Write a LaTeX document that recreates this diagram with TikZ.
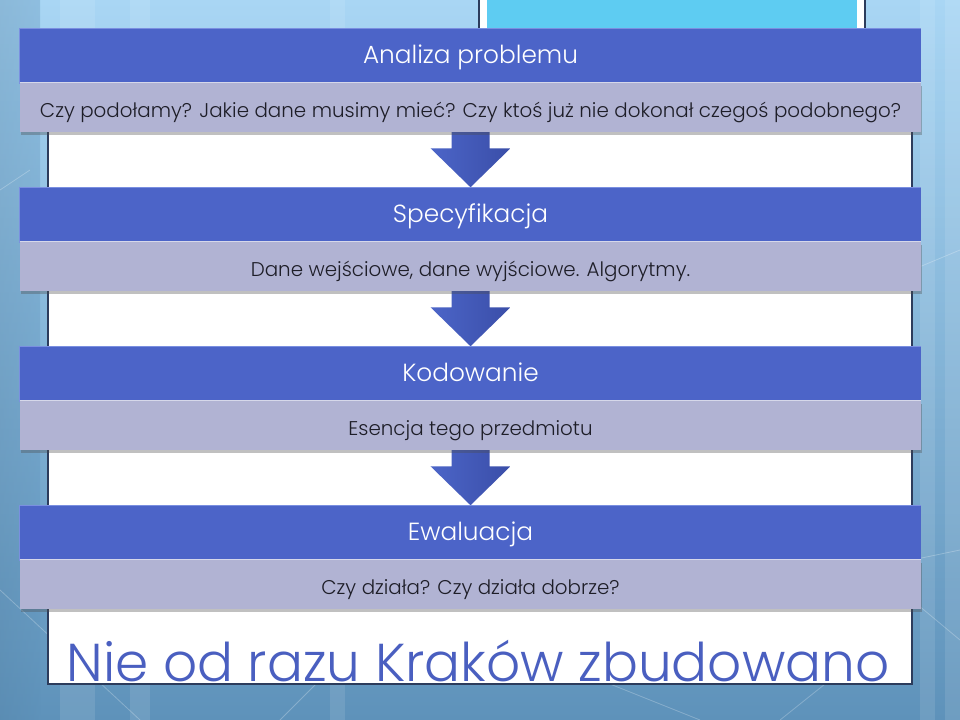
\documentclass[tikz,border=0pt]{standalone}
\usepackage{fontspec}
\setmainfont{Poppins}[UprightFont=* Light]
\usetikzlibrary{calc,shadows}
\definecolor{bgtop}{HTML}{A9D6F4}
\definecolor{bgbot}{HTML}{5E92BA}
\definecolor{titleblue}{HTML}{4C64C8}
\definecolor{titlelight}{HTML}{7A8FE0}
\definecolor{greybar}{HTML}{B1B3D3}
\definecolor{greylight}{HTML}{D6D8EA}
\definecolor{arrowL}{HTML}{4C65C8}
\definecolor{arrowR}{HTML}{3A4EA8}
\definecolor{panelline}{HTML}{2C3C5C}
\definecolor{cyanbox}{HTML}{5ECCF2}
\definecolor{mottoblue}{HTML}{4A5FC0}
\definecolor{greytext}{HTML}{1E1E28}
\pgfdeclarelayer{bg}
\pgfdeclarelayer{arrowlayer}
\pgfsetlayers{bg,arrowlayer,main}
\tikzset{
  titlebar/.style={fill=titleblue, draw=none, minimum width=675.75pt, minimum height=41.25pt,
    inner sep=0pt, text=white, font=\fontsize{18.6}{22}\selectfont,
    text height=11.6pt, text depth=0pt},
  greybarst/.style={fill=greybar, draw=none, minimum width=675.75pt, minimum height=36.75pt,
    inner sep=0pt, text=greytext, font=\fontsize{14.9}{18}\selectfont,
    text height=15pt, text depth=0pt,
    drop shadow={shadow xshift=0.8pt, shadow yshift=-2pt, opacity=0.35, fill=black!70}},
  blockarrow/.style={left color=arrowL, right color=arrowR, draw=none},
  stripe/.style={fill=white, opacity=0.10},
  faintline/.style={draw=white, opacity=0.25, line width=0.6pt}
}
\begin{document}
\begin{tikzpicture}[x=0.75pt,y=-0.75pt]
\useasboundingbox (0,0) rectangle (960,720);
\begin{pgfonlayer}{bg}
  % background
  \shade[top color=bgtop, bottom color=bgbot] (0,0) rectangle (960,720);
  \shade[left color=bgbot!90!black, right color=bgbot, opacity=0.35] (0,0) rectangle (40,720);
  \fill[stripe] (60,0) rectangle (95,720);
  \fill[stripe] (130,0) rectangle (150,720);
  \fill[stripe] (330,0) rectangle (345,720);
  \fill[stripe] (920,0) rectangle (935,720);
  \fill[stripe] (945,0) rectangle (960,720);
  \draw[faintline] (0,590) -- (140,720);
  \draw[faintline] (280,720) -- (370,630);
  \draw[faintline] (600,680) -- (700,720);
  \draw[faintline] (780,720) -- (880,640);
  \draw[faintline] (912,270) -- (960,250);
  \draw[faintline] (912,560) -- (960,550);
  \draw[faintline] (912,600) -- (960,640);
  \draw[faintline] (0,190) -- (30,170);
  % white panel
  \draw[fill=white, draw=panelline, line width=0.8pt] (48,60) rectangle (912,684);
  % cyan placeholder at top
  \draw[fill=white, draw=panelline, line width=0.8pt] (479,-5) rectangle (865,60);
  \fill[cyanbox] (487,-5) rectangle (857,60);
\end{pgfonlayer}

% stages
\node[titlebar] (t1) at (470.5,56) {Analiza problemu};
\node[greybarst] (g1) at (470.5,107.5) {Czy podołamy? Jakie dane musimy mieć? Czy ktoś już nie dokonał czegoś podobnego?};
\node[titlebar] (t2) at (470.5,215) {Specyfikacja};
\node[greybarst] (g2) at (470.5,266.5) {Dane wejściowe, dane wyjściowe. Algorytmy.};
\node[titlebar] (t3) at (470.5,374) {Kodowanie};
\node[greybarst] (g3) at (470.5,425.5) {Esencja tego przedmiotu};
\node[titlebar] (t4) at (470.5,533) {Ewaluacja};
\node[greybarst] (g4) at (470.5,584.5) {Czy działa? Czy działa dobrze?};

% highlights
\foreach \n in {t1,t2,t3,t4}{
  \draw[titlelight, line width=0.8pt] (\n.north west) -- (\n.north east);
  \draw[titlelight, line width=0.8pt] (\n.north west) -- (\n.south west);
}
\foreach \n in {g1,g2,g3,g4}{
  \draw[greylight, line width=0.8pt] (\n.north west) -- (\n.north east);
}

% block arrows
\begin{pgfonlayer}{arrowlayer}
\foreach \a/\b in {g1/t2,g2/t3,g3/t4}{
  \shade[blockarrow] ($(\a.south)+(-19,-4)$) -- ($(\a.south)+(19,-4)$) -- ($(\a.south)+(19,16)$)
    -- ($(\a.south)+(40,16)$) -- (\b.north) -- ($(\a.south)+(-40,16)$) -- ($(\a.south)+(-19,16)$) -- cycle;
}
\end{pgfonlayer}

% motto
\node[anchor=base, text=mottoblue, inner sep=0pt, font=\fontsize{40}{48}\selectfont] (motto) at (478,681) {Nie od razu Kraków zbudowano};
\end{tikzpicture}
\end{document}
